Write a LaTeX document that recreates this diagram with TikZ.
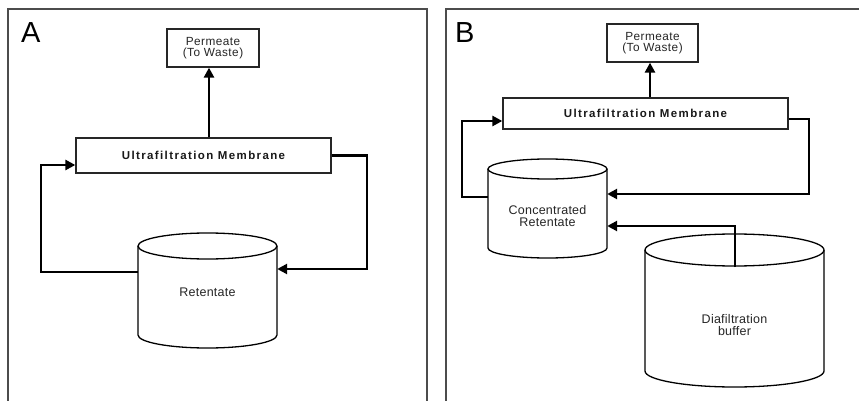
\documentclass[tikz,border=0pt]{standalone}
\usepackage{fontspec}
\setmainfont{Liberation Sans}
\usetikzlibrary{arrows.meta}
\newcommand{\drawtank}[5]{%
  \draw[tank] (#1-#4,#2) -- (#1-#4,#3)
    arc[start angle=180,end angle=360,x radius=#4pt,y radius=#5pt] -- (#1+#4,#2);
  \draw[tank] (#1,#2) ellipse[x radius=#4pt,y radius=#5pt];}
\begin{document}
\begin{tikzpicture}[x=1pt,y=-1pt,
  frame/.style={draw=black!70, line width=1.4pt},
  box/.style={draw=black!85, line width=1.3pt, inner sep=0pt, align=center,
    text=black!85, font=\fontsize{11.8}{11.5}\selectfont\addfontfeatures{LetterSpace=4}},
  membox/.style={draw=black!85, line width=1.3pt, inner sep=0pt, align=center,
    text=black!90, font=\fontsize{11.5}{11.5}\selectfont\bfseries\addfontfeatures{LetterSpace=12}},
  tanktext/.style={inner sep=0pt, align=center, text=black!85,
    font=\fontsize{12.5}{12}\selectfont\addfontfeatures{LetterSpace=2}},
  panel/.style={anchor=base west, inner sep=0pt, font=\fontsize{29}{29}\selectfont},
  tank/.style={draw=black, line width=1.3pt},
  flow/.style={line width=2.9pt, -{Triangle[length=10pt,width=10pt]}}]
\useasboundingbox (0,0) rectangle (859,401);
\fill[white] (0,0) rectangle (859,401);
% frames
\draw[frame] (8,402) -- (8,9) -- (427,9) -- (427,402);
\draw[frame] (446,402) -- (446,9) -- (860,9);
\node[panel] (labA) at (21,43) {A};
\node[panel] (labB) at (455,43) {B};
% ---------------- Panel A ----------------
\node[box, minimum width=92pt, minimum height=38pt] (permA) at (213,48) {Permeate\\(To Waste)};
\node[membox, minimum width=255pt, minimum height=35pt] (memA) at (203.5,155.5) {Ultrafiltration Membrane};
\drawtank{207.5}{246}{335}{69.5}{13}
\node[tanktext, minimum width=139pt] (retA) at (207.5,292) {Retentate};
\coordinate (pA) at (209,0);
\coordinate (lA) at (41,0);
\coordinate (rA) at (367,0);
\draw[flow] (memA.north -| pA) -- (permA.south -| pA);
\draw[flow] (retA.west |- 0,272) -- (lA |- 0,272) -- (lA |- 0,165) -- (memA.west |- 0,165);
\draw[flow] (memA.east) -- (rA |- memA.east) -- (rA |- 0,269) -- (retA.east |- 0,269);
% ---------------- Panel B ----------------
\node[box, minimum width=91pt, minimum height=38pt] (permB) at (652.5,43) {Permeate\\(To Waste)};
\node[membox, minimum width=285pt, minimum height=31pt] (memB) at (645.5,113.5) {Ultrafiltration Membrane};
\drawtank{547.5}{169}{248}{59.5}{10}
\node[tanktext, minimum width=119pt] (concB) at (547.5,216) {Concentrated\\Retentate};
\drawtank{734.5}{250}{371}{89.5}{16}
\node[tanktext, minimum width=179pt] (diaB) at (734.5,325) {Diafiltration\\buffer};
\coordinate (pB) at (650,0);
\coordinate (lB) at (462,0);
\coordinate (rB) at (809,0);
\coordinate (dB) at (735,267);
\draw[flow] (memB.north -| pB) -- (permB.south -| pB);
\draw[flow] (concB.west |- 0,197) -- (lB |- 0,197) -- (lB |- 0,121) -- (memB.west |- 0,121);
\draw[flow] (memB.east |- 0,119) -- (rB |- 0,119) -- (rB |- 0,194) -- (concB.east |- 0,194);
\draw[flow] (dB) -- (dB |- 0,226) -- (concB.east |- 0,226);
\end{tikzpicture}
\end{document}
